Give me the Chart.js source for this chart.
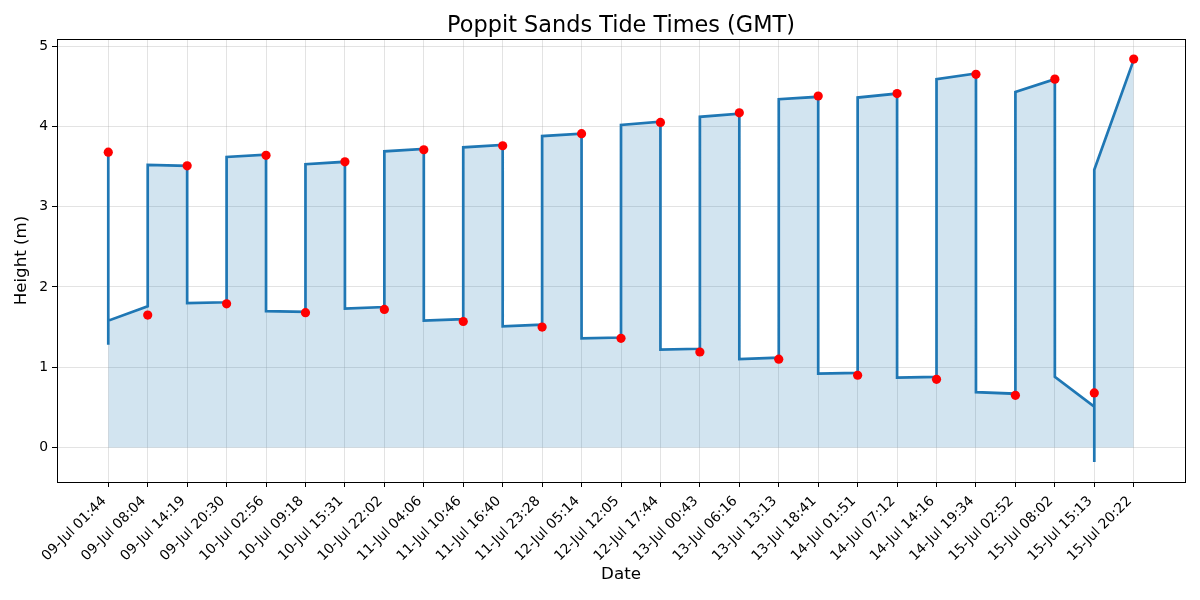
<!DOCTYPE html>
<html>
<head>
<meta charset="utf-8">
<script src="https://cdn.jsdelivr.net/npm/chart.js@4"></script>
<style>
  body { margin: 0; background: #fff; }
  #wrap { width: 1200px; height: 600px; }
</style>
</head>
<body>
<div id="wrap"><canvas id="tideChart" width="1200" height="600"></canvas></div>
<script>
// ----- DATA -----
const chartTitle = 'Poppit Sands Tide Times (GMT)';

const tickLabels = [
  '09-Jul 01:44', '09-Jul 08:04', '09-Jul 14:19', '09-Jul 20:30',
  '10-Jul 02:56', '10-Jul 09:18', '10-Jul 15:31', '10-Jul 22:02',
  '11-Jul 04:06', '11-Jul 10:46', '11-Jul 16:40', '11-Jul 23:28',
  '12-Jul 05:14', '12-Jul 12:05', '12-Jul 17:44',
  '13-Jul 00:43', '13-Jul 06:16', '13-Jul 13:13', '13-Jul 18:41',
  '14-Jul 01:51', '14-Jul 07:12', '14-Jul 14:16', '14-Jul 19:34',
  '15-Jul 02:52', '15-Jul 08:02', '15-Jul 15:13', '15-Jul 20:22'
];

// tide heights (red markers), one per label
const tideHeights = [
  3.68, 1.65, 3.51, 1.79, 3.64, 1.68, 3.56, 1.72, 3.71, 1.57,
  3.76, 1.50, 3.91, 1.36, 4.05, 1.19, 4.17, 1.10, 4.38, 0.90,
  4.41, 0.85, 4.65, 0.65, 4.59, 0.68, 4.84
];

// blue curve vertices (x = label index)
const curveX = [
  0, 0, 0, 1, 1, 2, 2, 3, 3, 4, 4, 5, 5, 6, 6, 7, 7, 8, 8, 9, 9,
  10, 10, 11, 11, 12, 12, 13, 13, 14, 14, 15, 15, 16, 16, 17, 17,
  18, 18, 19, 19, 20, 20, 21, 21, 22, 22, 23, 23, 24, 24, 25, 25, 25, 26
];
const curveY = [
  1.28, 3.68, 1.58, 1.76, 3.52, 3.51, 1.80, 1.81, 3.62, 3.65, 1.70,
  1.69, 3.53, 3.56, 1.73, 1.75, 3.69, 3.72, 1.58, 1.60, 3.74,
  3.77, 1.51, 1.53, 3.88, 3.91, 1.36, 1.37, 4.02, 4.06, 1.22,
  1.23, 4.12, 4.16, 1.10, 1.12, 4.34, 4.37, 0.92, 0.93, 4.36,
  4.41, 0.87, 0.88, 4.59, 4.66, 0.69, 0.67, 4.43, 4.59, 0.88,
  0.51, -0.18, 3.46, 4.83
];

const yTicks = [0, 1, 2, 3, 4, 5];

// ----- PLUGINS -----
// black box round the plot + title centred over the axes (like matplotlib)
const frameBox = {
  id: 'frameBox',
  afterDraw(chart) {
    const {ctx, chartArea: a} = chart;
    ctx.save();
    ctx.strokeStyle = '#000';
    ctx.lineWidth = 1;
    ctx.strokeRect(Math.round(a.left) + 0.5, Math.round(a.top) + 0.5,
      Math.round(a.right - a.left), Math.round(a.bottom - a.top));
    ctx.fillStyle = '#000';
    ctx.font = '22.4px "DejaVu Sans", sans-serif';
    ctx.textAlign = 'center';
    ctx.textBaseline = 'alphabetic';
    ctx.fillText(chartTitle, (a.left + a.right) / 2, 31.5);
    ctx.restore();
  }
};

// ----- CHART -----
Chart.defaults.font.family = '"DejaVu Sans", sans-serif';
Chart.defaults.color = '#000';

const gridColor = 'rgba(176,176,176,0.35)';

new Chart(document.getElementById('tideChart'), {
  type: 'line',
  data: {
    datasets: [
      {
        label: 'High/Low',
        data: tideHeights.map((h, i) => ({x: i, y: h})),
        showLine: false,
        pointRadius: 4.6,
        pointBackgroundColor: '#ff0000',
        pointBorderWidth: 0,
        order: 0
      },
      {
        label: 'Tide',
        data: curveX.map((x, i) => ({x: x, y: curveY[i]})),
        borderColor: '#1f77b4',
        borderWidth: 2.7,
        pointRadius: 0,
        tension: 0,
        fill: 'origin',
        backgroundColor: 'rgba(31,119,180,0.2)',
        order: 1
      }
    ]
  },
  options: {
    responsive: false,
    animation: false,
    devicePixelRatio: 1,
    layout: {padding: {top: 39, right: 15}},
    plugins: {
      legend: {display: false},
      tooltip: {enabled: false},
      title: {display: false}
    },
    scales: {
      x: {
        type: 'linear',
        min: -1.3,
        max: 27.3,
        afterBuildTicks: axis => { axis.ticks = tickLabels.map((_, i) => ({value: i})); },
        afterFit: axis => { axis.height = 118; },
        ticks: {
          autoSkip: false,
          maxRotation: 45,
          minRotation: 45,
          padding: 6,
          labelOffset: -4,
          font: {size: 13.9},
          callback: (v, i) => tickLabels[i]
        },
        grid: {color: gridColor, lineWidth: 1, tickColor: '#000', tickLength: 5, tickWidth: 1},
        border: {display: false},
        title: {display: true, text: 'Date', font: {size: 16.7}, padding: {top: 4, bottom: 15}}
      },
      y: {
        min: -0.43,
        max: 5.09,
        afterBuildTicks: axis => { axis.ticks = yTicks.map(v => ({value: v})); },
        afterFit: axis => { axis.width = 57; },
        ticks: {padding: 4, font: {size: 13.9}},
        grid: {color: gridColor, lineWidth: 1, tickColor: '#000', tickLength: 5, tickWidth: 1},
        border: {display: false},
        title: {display: true, text: 'Height (m)', font: {size: 16.7}, padding: {top: 12, bottom: 4}}
      }
    }
  },
  plugins: [frameBox]
});
</script>
</body>
</html>
